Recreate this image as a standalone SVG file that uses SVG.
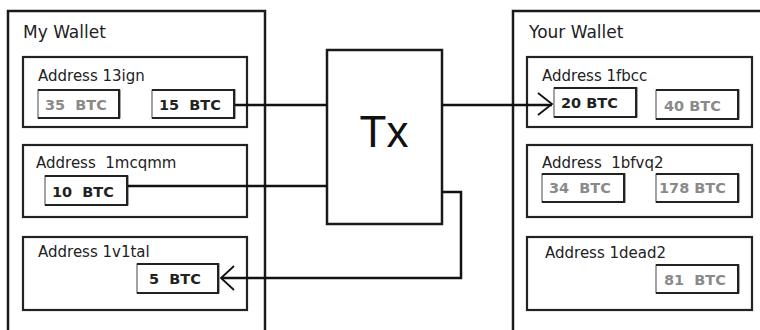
<svg xmlns="http://www.w3.org/2000/svg" width="760" height="330" viewBox="0 0 760 330">
<defs>
<style>
.wallet{fill:#fff;stroke:#1a1a1a;stroke-width:2.5}
.addr{fill:#fff;stroke:#222;stroke-width:2.2}
.coin{fill:#fff;stroke:#666;stroke-width:1.2}
.coinedge{fill:none;stroke:#222;stroke-width:2}
.title{font-family:"DejaVu Sans",sans-serif;font-size:17px;fill:#222}
.atext{font-family:"DejaVu Sans",sans-serif;font-size:15px;fill:#222;white-space:pre}
.cg{font-family:"DejaVu Sans",sans-serif;font-size:14.5px;font-weight:bold;fill:#8a8a8a;white-space:pre}
.cd{font-family:"DejaVu Sans",sans-serif;font-size:14.5px;font-weight:bold;fill:#222;white-space:pre}
.conn{fill:none;stroke:#111;stroke-width:2.5}
.arr{fill:none;stroke:#111;stroke-width:1.8}
</style>
</defs>
<g id="my-wallet">
<rect class="wallet" x="8" y="11" width="257" height="330"/>
<text class="title" x="23" y="38">My Wallet</text>
</g>
<g id="addr-13ign">
<rect class="addr" x="23" y="57" width="224" height="70"/>
<text class="atext" x="38" y="81">Address 13ign</text>
</g>
<g id="coin-35">
<rect class="coin" x="38" y="90" width="82" height="28"/>
<path class="coinedge" d="M38,90 H119 V118 M38,118 H120"/>
<text class="cg" x="45" y="110">35  BTC</text>
</g>
<g id="coin-15">
<rect class="coin" x="152" y="90" width="83" height="28"/>
<path class="coinedge" d="M152,90 H234 V118 M152,118 H235"/>
<text class="cd" x="159" y="110">15  BTC</text>
</g>
<g id="addr-1mcqmm">
<rect class="addr" x="23" y="145" width="224" height="72"/>
<text class="atext" x="36" y="168">Address  1mcqmm</text>
</g>
<g id="coin-10">
<rect class="coin" x="45" y="176" width="83" height="29"/>
<path class="coinedge" d="M45,176 H127 V205 M45,205 H128"/>
<text class="cd" x="52" y="197">10  BTC</text>
</g>
<g id="addr-1v1tal">
<rect class="addr" x="23" y="237" width="224" height="73"/>
<text class="atext" x="38" y="257">Address 1v1tal</text>
</g>
<g id="coin-5">
<rect class="coin" x="137" y="264" width="82" height="29"/>
<path class="coinedge" d="M137,264 H218 V293 M137,293 H219"/>
<text class="cd" x="149" y="284">5  BTC</text>
</g>
<g id="tx">
<rect x="327" y="50" width="115" height="174" fill="#fff" stroke="#1a1a1a" stroke-width="2.5"/>
<text x="384" y="147" text-anchor="middle" font-family="'Liberation Sans',Arial,sans-serif" font-size="44" fill="#111">Tx</text>
</g>
<g id="your-wallet">
<rect class="wallet" x="513" y="11" width="260" height="330"/>
<text class="title" x="529" y="38">Your Wallet</text>
</g>
<g id="addr-1fbcc">
<rect class="addr" x="527" y="57" width="225" height="70"/>
<text class="atext" x="542" y="81">Address 1fbcc</text>
</g>
<g id="coin-20">
<rect class="coin" x="554" y="88" width="83" height="29"/>
<path class="coinedge" d="M554,88 H636 V117 M554,117 H637"/>
<text class="cd" x="561" y="108">20 BTC</text>
</g>
<g id="coin-40">
<rect class="coin" x="656" y="90" width="83" height="29"/>
<path class="coinedge" d="M656,90 H738 V119 M656,119 H739"/>
<text class="cg" x="664" y="111">40 BTC</text>
</g>
<g id="addr-1bfvq2">
<rect class="addr" x="527" y="145" width="225" height="72"/>
<text class="atext" x="542" y="168">Address  1bfvq2</text>
</g>
<g id="coin-34">
<rect class="coin" x="542" y="174" width="83" height="28"/>
<path class="coinedge" d="M542,174 H624 V202 M542,202 H625"/>
<text class="cg" x="549" y="193">34  BTC</text>
</g>
<g id="coin-178">
<rect class="coin" x="656" y="174" width="83" height="28"/>
<path class="coinedge" d="M656,174 H738 V202 M656,202 H739"/>
<text class="cg" x="659" y="193">178 BTC</text>
</g>
<g id="addr-1dead2">
<rect class="addr" x="527" y="237" width="225" height="73"/>
<text class="atext" x="545" y="258">Address 1dead2</text>
</g>
<g id="coin-81">
<rect class="coin" x="656" y="265" width="83" height="28"/>
<path class="coinedge" d="M656,265 H738 V293 M656,293 H739"/>
<text class="cg" x="664" y="285">81  BTC</text>
</g>
<g id="connectors">
<path class="conn" d="M235,105 H327"/>
<path class="conn" d="M128,186 H327"/>
<path class="conn" d="M442,105 H552"/>
<path class="arr" d="M538,93 L552,104 L538,115"/>
<path class="conn" d="M442,192 H461 V278 H221"/>
<path class="arr" d="M234,266 L221,278 L234,290"/>
</g>
</svg>
